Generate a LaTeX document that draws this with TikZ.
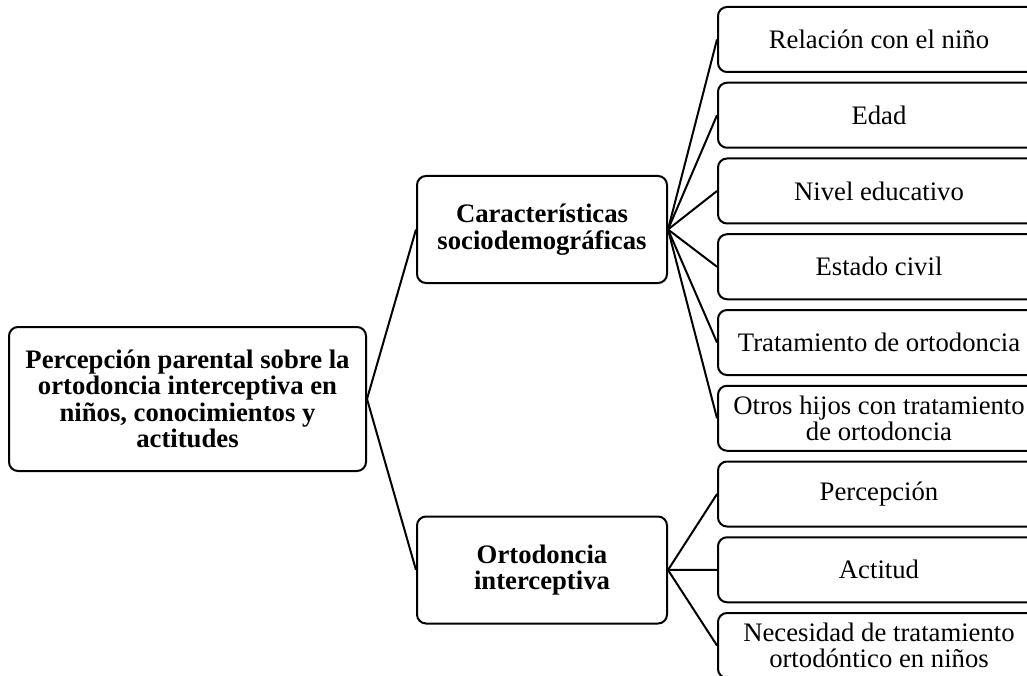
\documentclass[tikz,border=0pt]{standalone}
\usepackage{fontspec}
\setmainfont{Liberation Serif}
\usetikzlibrary{positioning}
\tikzset{
  mapa/.style={x=1pt,y=-1pt,
    line width=2pt,
    node distance=8.75pt},
  caja/.style={rectangle,draw,rounded corners=9pt,align=center,
    inner sep=1pt,font=\fontsize{26.7}{26.5}\selectfont},
  raiz/.style={caja,minimum width=357pt,minimum height=144pt,
    font=\fontsize{26.7}{26.5}\selectfont\bfseries},
  tema/.style={caja,minimum width=250pt,minimum height=107pt,
    font=\fontsize{26.7}{26.5}\selectfont\bfseries},
  item/.style={caja,minimum width=322pt,minimum height=65pt}
}
\begin{document}
\begin{tikzpicture}[mapa]
  \useasboundingbox (0,0) rectangle (1027,676);
  % raiz y temas
  \node[raiz] (raiz) at (187.5,399) {Percepción parental sobre la\\ortodoncia interceptiva en\\niños, conocimientos y\\actitudes};
  \node[tema] (socio) at (542,229.5) {Características\\sociodemográficas};
  \node[tema] (orto) at (542,570) {Ortodoncia\\interceptiva};
  % variables
  \node[item] (s1) at (879,39.5) {Relación con el niño};
  \node[item] (s2) [below=of s1] {Edad};
  \node[item] (s3) [below=of s2] {Nivel educativo};
  \node[item] (s4) [below=of s3] {Estado civil};
  \node[item] (s5) [below=of s4] {Tratamiento de ortodoncia};
  \node[item] (s6) [below=of s5] {Otros hijos con tratamiento\\de ortodoncia};
  \node[item] (o1) [below=of s6] {Percepción};
  \node[item] (o2) [below=of o1] {Actitud};
  \node[item] (o3) [below=of o2] {Necesidad de tratamiento\\ortodóntico en niños};
  \draw (raiz.east) -- (socio.west);
  \draw (raiz.east) -- (orto.west);
  \foreach \v in {s1,s2,s3,s4,s5,s6}
    \draw (socio.east) -- (\v.west);
  \foreach \v in {o1,o2,o3}
    \draw (orto.east) -- (\v.west);
\end{tikzpicture}
\end{document}
